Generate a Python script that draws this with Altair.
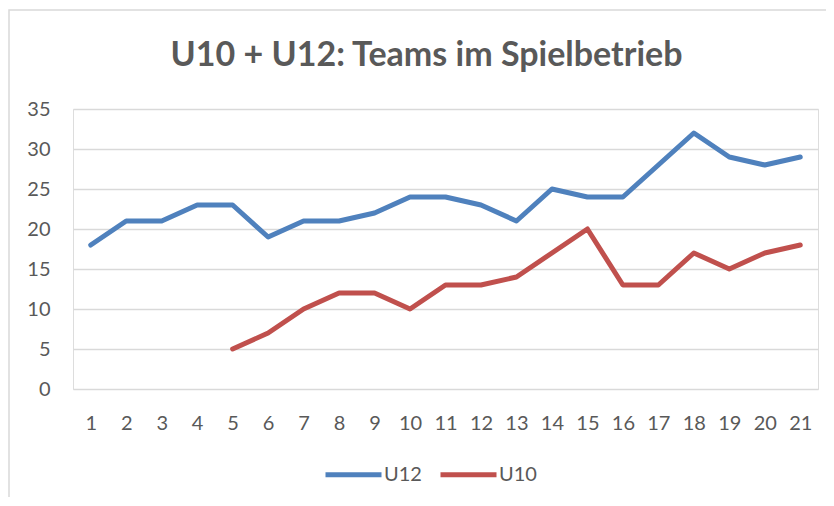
import altair as alt
import pandas as pd

title = "U10 + U12: Teams im Spielbetrieb"
categories = list(range(1, 22))
u12 = [18, 21, 21, 23, 23, 19, 21, 21, 22, 24, 24, 23, 21, 25, 24, 24, 28, 32, 29, 28, 29]
u10_x = list(range(5, 22))
u10 = [5, 7, 10, 12, 12, 10, 13, 13, 14, 17, 20, 13, 13, 17, 15, 17, 18]
series = ["U12", "U10"]
colors = ["#4F81BD", "#C0504D"]
y_ticks = [0, 5, 10, 15, 20, 25, 30, 35]

rows = [{"x": c, "v": v, "s": "U12"} for c, v in zip(categories, u12)]
rows += [{"x": c, "v": v, "s": "U10"} for c, v in zip(u10_x, u10)]
df = pd.DataFrame(rows)

W, H = 745, 280
FONT = "Lato"
TXT = "#595959"
GRID = "#D9D9D9"

frame = alt.Chart(alt.Data(values=[{}])).mark_rect(
    fill="white", fillOpacity=0, stroke=GRID, strokeWidth=1.5
).encode(
    x=alt.value(-64), x2=alt.value(W + 60),
    y=alt.value(-99), y2=alt.value(H + 120),
)

lines = alt.Chart(df).mark_line(strokeWidth=5, strokeCap="round", strokeJoin="round").encode(
    x=alt.X("x:O", sort=categories,
            scale=alt.Scale(type="point", padding=0.5, domain=categories),
            axis=alt.Axis(title=None, labelAngle=0, domain=False, ticks=False,
                          labelPadding=24, labelFontSize=20, labelFont=FONT,
                          labelColor=TXT, labelOverlap=False, grid=False)),
    y=alt.Y("v:Q", scale=alt.Scale(domain=[0, 35], nice=False),
            axis=alt.Axis(title=None, values=y_ticks, domain=False, ticks=False,
                          labelPadding=23, labelFontSize=20, labelFont=FONT,
                          labelColor=TXT, grid=True, gridColor=GRID, gridWidth=1.3)),
    color=alt.Color("s:N", scale=alt.Scale(domain=series, range=colors),
                    legend=alt.Legend(title=None, orient="none", direction="horizontal",
                                      legendX=250, legendY=335,
                                      symbolType="stroke", symbolSize=3136,
                                      symbolStrokeWidth=5, labelFontSize=20,
                                      labelFont=FONT, labelColor=TXT,
                                      labelOffset=0, columnPadding=8, padding=0)),
    detail="s:N",
)

chart = alt.layer(frame, lines).properties(
    width=W, height=H,
    title=alt.TitleParams(title, font=FONT, fontSize=34, fontWeight="bold", color=TXT,
                          anchor="middle", frame="group", baseline="alphabetic",
                          offset=-91, dx=-19),
    autosize=alt.AutoSizeParams(type="none"),
    padding={"left": 65, "top": 101, "right": 8, "bottom": 108},
).configure_view(stroke=None).configure(background="white")

chart.save("out.html", embed_options={"renderer": "svg", "actions": False})
